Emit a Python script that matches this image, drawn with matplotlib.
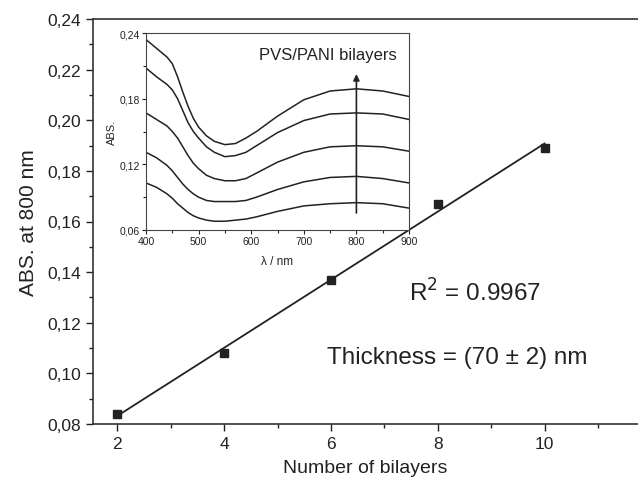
import numpy as np
import matplotlib
matplotlib.use('Agg')
import matplotlib.pyplot as plt
from matplotlib.ticker import MultipleLocator, FuncFormatter

plt.rcParams['font.family'] = ['Liberation Sans', 'DejaVu Sans']

# -------------------------------
# PODACI
# -------------------------------

bilayers = [2, 4, 6, 8, 10]
abs_800 = [0.084, 0.108, 0.137, 0.167, 0.189]

wavelength = [400, 420, 440, 450, 460, 470, 480, 490, 500, 515, 530,
              550, 570, 590, 610, 650, 700, 750, 800, 850, 900]
spec_1 = [0.234, 0.226, 0.218, 0.212, 0.200, 0.186, 0.173, 0.162, 0.154, 0.146, 0.141,
          0.138, 0.139, 0.144, 0.150, 0.164, 0.179, 0.187, 0.189, 0.187, 0.182]
spec_2 = [0.208, 0.200, 0.193, 0.188, 0.180, 0.169, 0.158, 0.150, 0.144, 0.136, 0.131,
          0.127, 0.128, 0.131, 0.137, 0.149, 0.160, 0.166, 0.167, 0.166, 0.161]
spec_3 = [0.167, 0.161, 0.155, 0.150, 0.144, 0.136, 0.128, 0.121, 0.116, 0.110, 0.107,
          0.105, 0.105, 0.107, 0.112, 0.122, 0.131, 0.136, 0.137, 0.136, 0.132]
spec_4 = [0.131, 0.126, 0.119, 0.114, 0.108, 0.102, 0.097, 0.093, 0.090, 0.087, 0.086,
          0.086, 0.086, 0.087, 0.090, 0.097, 0.104, 0.108, 0.109, 0.107, 0.103]
spec_5 = [0.103, 0.099, 0.093, 0.089, 0.084, 0.080, 0.076, 0.073, 0.071, 0.069, 0.068,
          0.068, 0.069, 0.070, 0.072, 0.077, 0.082, 0.084, 0.085, 0.084, 0.080]
spectra = [spec_1, spec_2, spec_3, spec_4, spec_5]

INK = '#222222'


def comma(fmt):
    return FuncFormatter(lambda v, p: (fmt % v).replace('.', ','))


fig = plt.figure(figsize=(6.38, 4.85), dpi=100)

# -------------------------------
# GLAVNI GRAF
# -------------------------------
ax = fig.add_axes([93 / 638, 60 / 485, 545 / 638, 405 / 485])
ax.plot(bilayers, abs_800, 's', color=INK, ms=6)
k, n = np.polyfit(bilayers, abs_800, 1)
xf = np.array([bilayers[0], bilayers[-1]])
ax.plot(xf, k * xf + n, '-', color=INK, lw=1.3)

ax.set_xlim(1.545, 11.75)
ax.set_ylim(0.08, 0.24)
ax.xaxis.set_major_locator(MultipleLocator(2))
ax.xaxis.set_minor_locator(MultipleLocator(1))
ax.yaxis.set_major_locator(MultipleLocator(0.02))
ax.yaxis.set_minor_locator(MultipleLocator(0.01))
ax.yaxis.set_major_formatter(comma('%.2f'))
ax.tick_params(which='major', direction='out', length=5, width=1, labelsize=12.5, colors=INK)
ax.tick_params(which='minor', direction='out', length=3, width=1, colors=INK)
ax.spines['right'].set_visible(False)
for s in ['left', 'bottom', 'top']:
    ax.spines[s].set_color('#333333')
    ax.spines[s].set_linewidth(1.2)
ax.set_xlabel('Number of bilayers', fontsize=14, color=INK, labelpad=6)
ax.set_ylabel('ABS. at 800 nm', fontsize=15, color=INK, labelpad=7)

ax.text(7.47, 0.132, r'R$^2$ = 0.9967', fontsize=17.5, color=INK, va='center')
ax.text(5.93, 0.1065, 'Thickness = (70 ± 2) nm', fontsize=17.5, color=INK, va='center')

# -------------------------------
# UMETNUTI GRAF
# -------------------------------
ins = fig.add_axes([146 / 638, 254 / 485, 263 / 638, 197 / 485])
for spec in spectra:
    ins.plot(wavelength, spec, '-', color=INK, lw=1.1)
ins.annotate('', xy=(800, 0.205), xytext=(800, 0.073),
             arrowprops=dict(arrowstyle='-|>', color=INK, lw=1.2, mutation_scale=9))
ins.text(615, 0.220, 'PVS/PANI bilayers', fontsize=12, color=INK, ha='left', va='center')

ins.set_xlim(400, 900)
ins.set_ylim(0.06, 0.24)
ins.xaxis.set_major_locator(MultipleLocator(100))
ins.xaxis.set_minor_locator(MultipleLocator(50))
ins.yaxis.set_major_locator(MultipleLocator(0.06))
ins.yaxis.set_minor_locator(MultipleLocator(0.03))
ins.yaxis.set_major_formatter(comma('%.2f'))
ins.tick_params(which='major', direction='out', length=3, width=0.8, labelsize=7.5, colors=INK, pad=1.5)
ins.tick_params(which='minor', direction='out', length=2, width=0.8, colors=INK)
for s in ins.spines.values():
    s.set_color('#444444')
    s.set_linewidth(0.8)
ins.set_xlabel('λ / nm', fontsize=8.5, color=INK, labelpad=6)
ins.set_ylabel('ABS.', fontsize=8, color=INK, labelpad=2)

fig.savefig('out.png', dpi=100)
